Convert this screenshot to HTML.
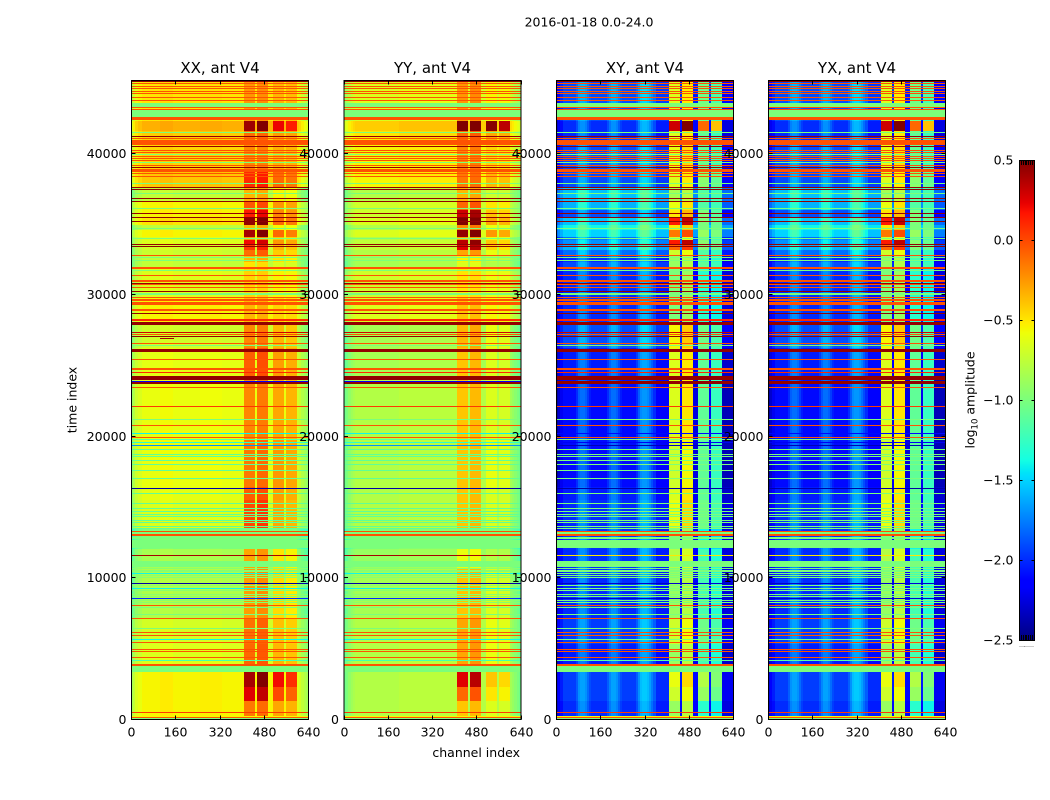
<!DOCTYPE html>
<html>
<head>
<meta charset="utf-8">
<title>2016-01-18 0.0-24.0</title>
<style>
html,body{margin:0;padding:0;background:#fff;}
#figure{position:relative;width:1050px;height:800px;overflow:hidden;background:#fff;}
canvas{position:absolute;display:block;image-rendering:pixelated;}
svg{position:absolute;left:0;top:0;}
text{font-family:"DejaVu Sans","Liberation Sans",sans-serif;fill:#000;}
</style>
</head>
<body>
<div id="figure">
<canvas id="hm0"></canvas>
<canvas id="hm1"></canvas>
<canvas id="hm2"></canvas>
<canvas id="hm3"></canvas>
<canvas id="cb"></canvas>
<svg id="overlay" width="1050" height="800">
<text x="589" y="26.5" font-size="12.5" text-anchor="middle">2016-01-18 0.0-24.0</text>
<text x="520" y="757" font-size="12.5" text-anchor="end">channel index</text>
<text transform="translate(76.5,400) rotate(-90)" font-size="12.5" text-anchor="middle">time index</text>
<text transform="translate(974.5,400) rotate(-90)" font-size="12.5" text-anchor="middle">log<tspan font-size="8.5" dy="3">10</tspan><tspan dy="-3"> amplitude</tspan></text>
</svg>
</div>
<script>
// ---- chart data ----
const panelTitles = ["XX, ant V4", "YY, ant V4", "XY, ant V4", "YX, ant V4"];
const channelTicks = [0, 160, 320, 480, 640];
const timeTicks = [0, 10000, 20000, 30000, 40000];
const colorTicks = [0.5, 0, -0.5, -1, -1.5, -2, -2.5];
const colorTickLabels = ["0.5", "0.0", "\u22120.5", "\u22121.0", "\u22121.5", "\u22122.0", "\u22122.5"];
const colorbarEdgeMarks = [0.1, 0.22, 0.34, 0.46, 0.58, 0.7, 0.82, 0.94];

// start (upper) time of each observing segment
const segmentTop = [45143,42266,41512,40900,38778,37600,36550,35950,35360,34890,34540,34060,33830,33540,33120,32770,32300,31943,29829,27825,26175,24054,19693,16393,15448,13445,12030,10616,7081,5313,3286,2249,1306];
const xxBase  = [-.5,-.33,-.42,-.45,-.4,-.75,-.55,-.55,-.5,-.75,-.55,-.65,-.65,-.7,-.72,-.75,-.75,-.65,-.55,-.7,-.62,-.6,-.6,-.62,-.65,-1,-.85,-.82,-.68,-.65,-.55,-.55,-.55];
const xxRfi   = [.25,.75,.3,.25,.5,.4,.5,.7,.95,.4,.95,.4,.85,.75,.6,.4,.25,.2,.2,.5,.55,.4,.45,.55,.65,0,.55,.55,.55,.55,.95,.8,.4];
const xxOuter = [.15,.55,.15,.12,.3,.2,.3,.35,.4,.2,.45,.25,.4,.35,.3,.25,.1,.1,.1,.35,.35,.3,.35,.35,.35,0,.35,.35,.3,.3,.75,.55,.25];
const yyBase  = [-.65,-.42,-.5,-.55,-.55,-.8,-.7,-.7,-.65,-.8,-.65,-.8,-.75,-.75,-.8,-.85,-.85,-.7,-.65,-.85,-.85,-.8,-.8,-.8,-.8,-1,-.9,-.85,-.8,-.8,-.8,-.8,-.8];
const yyRfi   = [.4,.95,.4,.35,.4,.45,.6,1,1.15,.6,1.1,.5,1.1,1,.5,.3,.2,.2,.25,.5,.45,.4,.4,.4,.4,0,.3,.45,.5,.5,1.05,.7,.4];
const yyOuter = [.1,.9,.2,.1,.2,.1,.2,.3,.35,.2,.4,.2,.35,.3,.2,.1,.05,.1,.1,.25,.2,.15,.2,.15,.15,0,.1,.2,.2,.2,.4,.3,.15];
const xyBase  = [-1.9,-2,-2,-1.9,-1.9,-1.55,-1.6,-1.9,-1.55,-1.4,-1.5,-1.8,-1.7,-1.6,-1.8,-2,-1.9,-2,-2,-1.9,-2.05,-2.1,-2.1,-2.05,-2,-2,-2,-2,-1.95,-2.05,-1.95,-1.95,-2];
const xyRfi   = [1.25,2.3,1.35,1.3,1.25,.7,1,1.4,1.7,.9,1.35,1.1,1.85,1.5,1.1,1.1,1,1,1,1.35,1.4,1.45,1.4,1.4,1.4,1,1.2,1.1,1.25,1.15,1.35,1.25,1.1];
const xyOuter = [.85,1.9,.9,.8,.95,.4,.45,.9,.55,.4,.6,.7,.75,.6,.65,.8,.8,.7,.7,.85,.95,1,1,.95,.95,.6,.8,.8,.9,.85,1.15,1.05,.7];

// per-channel offsets, one value for each 8-channel bin
const xxOffset = [-.3,-.2,-.1,-.05,-.05,0,0,0,0,0,0,0,0,.03,.03,.03,.03,.03,.03,0,0,0,0,0,0,0,0,0,0,0,0,.02,.02,.02,.02,.02,.02,.02,.02,.02,.02,0,0,0,0,0,0,0,0,0,0,0,0,0,0,0,0,0,0,0,0,0,0,0,0,0,0,0,0,0,0,0,0,0,0,-.08,-.12,-.2,-.25,-.3];
const yyOffset = [-.25,-.2,-.12,-.07,-.03,0,0,0,0,0,0,0,0,0,0,0,0,0,0,0,0,0,0,0,0,.03,.03,.03,.03,.03,.03,.03,.03,.03,.03,.03,.03,.03,.03,.03,.03,.03,.03,.03,.03,.03,.03,.03,.03,.03,.03,0,0,0,0,0,0,0,0,0,0,0,0,0,0,0,0,0,0,0,0,0,0,0,0,-.05,-.1,-.15,-.2,-.25];
const xyOffset = [-.3,-.2,-.1,0,0,0,0,0,0,.1,.25,.3,.3,.25,.15,.05,0,0,0,0,0,0,0,.1,.22,.3,.3,.25,.15,.05,0,0,0,0,0,0,.1,.25,.38,.42,.42,.38,.3,.2,.1,-.05,-.05,-.05,-.05,-.05,-.05,0,0,0,0,0,-.1,0,0,0,0,0,-.15,-.15,0,0,0,0,0,-.1,0,0,0,0,0,-.25,-.25,-.25,-.25,-.25];
// how strongly each channel bin follows the inner and outer RFI blocks
const rfiWeight = [0,0,0,0,0,0,0,0,0,0,0,0,0,0,0,0,0,0,0,0,0,0,0,0,0,0,0,0,0,0,0,0,0,0,0,0,0,0,0,0,0,0,0,0,0,0,0,0,0,0,0,1,1,1,1,1,0,1.1,1.1,1.1,1.1,1.1,0,0,0,0,0,0,0,0,0,0,0,0,0,0,0,0,0,0];
const outerWeight = [0,0,0,0,0,0,0,0,0,0,0,0,0,0,0,0,0,0,0,0,0,0,0,0,0,0,0,0,0,0,0,0,0,0,0,0,0,0,0,0,0,0,0,0,0,0,0,0,0,0,0,0,0,0,0,0,0,0,0,0,0,0,0,0,1,1,1,1,1,0,.85,.85,.85,.85,.85,0,0,0,0,0];

// flagged rows: time, span, value in autocorrelations, value in cross-correlations
const flaggedRows = [
[45090,60,.45,.45],[44953,60,-.03,-.03],[44718,60,-.03,-.03],[44553,60,-.03,-.03],[44388,60,-.03,-.03],[44246,60,-.03,-.03],[43963,60,-.03,-.03],[43728,60,-.03,-.03],
[43539,283,-1,-1],[43209,71,-.03,-.03],[43068,48,-.03,-.03],[43020,472,-1,-1],[42526,212,-.03,-.03],[41465,71,-1,-1],[41206,90,.45,.45],[41017,60,-.03,-.03],
[40900,377,-.03,-.03],[40475,80,.45,.45],[40192,60,-.03,-.03],[40051,60,-.03,-.03],[39909,60,-1,-1],[39768,60,-.03,-.03],[39627,60,-.03,-.03],[39485,60,-.03,-.03],[39344,60,-1,-1],[39155,60,-.03,-.03],[39014,71,.45,.45],
[38849,190,-.03,-.03],[38542,60,-.03,-.03],[38354,60,-.03,-.03],[37835,60,-1,-1],[37553,60,.45,.45],[37411,60,.45,.45],[37128,70,-1,-1],[36798,60,.45,.45],[36610,60,.45,.45],
[36067,60,-1,-1],[35714,60,.45,.45],[35478,60,.45,.45],[35195,60,.45,.45],[34653,60,-1,-1],[33946,60,-1,-1],[33545,60,.45,.45],[33404,60,.45,.45],[32767,60,-.03,-.03],[32650,60,-1,-1],[32414,60,-1,-1],
[31943,140,-.03,-.03],[31707,60,-1,-1],[31354,60,-.03,-.03],
[31007,165,-.03,-.03],[30818,71,.45,.45],[30724,60,-.03,-.03],[30488,60,-.03,-.03],[30206,60,.45,.45],[30064,140,-1,-1],
[29829,60,-.03,-.03],[29687,60,-.03,-.03],[29593,60,-.03,-.03],[29451,60,-.03,-.03],[29357,118,-.03,-.03],[28933,94,-.03,-.03],[28697,60,.45,.45],[28226,118,.1,.1],[28061,212,.45,.45],
[27354,60,.3,.3],[27189,60,-.03,-.03],[27047,60,.45,.45],[26576,60,-.03,-.03],[26411,60,-1,-1],[26128,189,.45,.45],[25445,94,-.03,-.03],[24832,189,-.03,-.03],[24502,60,.1,.1],[24219,283,.45,.45],
[23912,71,-2.2,.45],[23794,118,.45,.45],[23441,60,-.03,-.03],[22145,50,.05,.05],[21226,60,-1,-1],[20801,60,-.03,-.03],[20212,60,-1.4,-2.1],[19953,60,-.03,-.03],[19811,60,-1.1,-1],[19600,60,-1.3,-2.2],[19387,60,-1.7,-2.35],
[19104,60,-1.1,-1],[18703,60,-1.1,-1],[18562,60,-1.1,-1],[18279,60,-1.1,-1],[17996,60,-1.1,-1],[17619,60,-1.1,-1],[17054,60,-1.1,-1],[16347,60,-2.4,-2.4],[15993,60,-1.1,-1],
[15259,60,-1.1,-1],[14929,60,-1.1,-1],[14694,60,-1.1,-1],[14505,60,-1.1,-1],[14317,60,-1.1,-1],[14081,60,-1.1,-1],[13892,60,-1.1,-1],[13610,60,-1.1,-1],[13468,60,-1.1,-1],
[13303,71,-.03,-.03],[13185,94,-1,-1],[13044,118,-.03,-.03],[12855,140,-1,-1],[12667,60,-2.3,-2.3],[12620,566,-1,-1],[11606,60,.4,-.5],[11158,424,-1,-1],
[10663,50,-.95,-1],[10545,50,-.95,-1],[10428,50,-.95,-1],[10333,60,-1.4,-1],[10168,50,-.95,-1],[10027,50,-.95,-1],[9626,60,-2.4,-2.3],[9461,50,-.95,-1],[9249,60,-1.4,-1],[9131,60,-1.7,-1],[9084,50,-.95,-1],[8848,50,-.95,-1],[8660,50,-.95,-1],[8566,60,-2,-2.3],[8424,50,-.95,-1],[8259,50,-.95,-1],
[8070,60,-.03,-.03],[7905,60,-1,-1],[7434,60,-1,-1],[7151,94,-.03,-.03],[6397,60,-1,-1],[6161,60,-.03,-.03],[5902,60,-.03,-.03],[5667,60,-1.4,-1],[5431,90,-.03,-.03],[4936,60,-.03,-.03],[4794,60,-.03,-.03],[4394,60,-.03,-.03],[4135,60,-1.2,-1.1],[3852,118,-.03,-.03],[3710,424,-1,-1],
[505,50,.05,.05],[237,60,-.55,-.55],[118,60,-.03,-.03],[60,60,-1,-1]
];
// short isolated streak in XX only: first channel, last channel, time, value
const xxStreak = [105, 155, 26900, .4];

// ---- axis setup ----
const panelLeft = [131.5, 344, 556.5, 768.5];
const panelW = 177, plotTop = 80.5, plotH = 639;
const chanMax = 640, timeMax = 45143;
const vMin = -2.5, vMax = 0.5;
const cbLeft = 1019.5, cbW = 15, cbTop = 160, cbH = 480;

function xScale(ch){ return ch / chanMax * panelW; }
function yScale(t){ return (1 - t / timeMax) * plotH; }
function cbScale(v){ return (vMax - v) / (vMax - vMin) * cbH; }

function interp(pts, n){
  for (let i = 1; i < pts.length; i++) {
    if (n <= pts[i][0]) {
      const a = pts[i-1], b = pts[i];
      return a[1] + (b[1]-a[1]) * (n-a[0]) / (b[0]-a[0]);
    }
  }
  return pts[pts.length-1][1];
}
const jetR = [[0,0],[.35,0],[.66,1],[.89,1],[1,.5]];
const jetG = [[0,0],[.125,0],[.375,1],[.64,1],[.91,0],[1,0]];
const jetB = [[0,.5],[.11,1],[.34,1],[.65,0],[1,0]];
function jet(v){
  const n = Math.max(0, Math.min(1, (v - vMin) / (vMax - vMin)));
  return "rgb(" + Math.round(interp(jetR,n)*255) + "," + Math.round(interp(jetG,n)*255) + "," + Math.round(interp(jetB,n)*255) + ")";
}

// ---- heatmaps ----
const panelSeries = [
  {base: xxBase, rfi: xxRfi, outer: xxOuter, off: xxOffset, flag: 2},
  {base: yyBase, rfi: yyRfi, outer: yyOuter, off: yyOffset, flag: 2},
  {base: xyBase, rfi: xyRfi, outer: xyOuter, off: xyOffset, flag: 3},
  {base: xyBase, rfi: xyRfi, outer: xyOuter, off: xyOffset, flag: 3}
];
const binWidth = chanMax / rfiWeight.length;

panelSeries.forEach(function(series, p){
  const cv = document.getElementById("hm" + p);
  cv.width = panelW;
  cv.height = plotH;
  cv.style.left = Math.floor(panelLeft[p]) + "px";
  cv.style.top = Math.floor(plotTop) + "px";
  const ctx = cv.getContext("2d");
  segmentTop.forEach(function(top, s){
    const bottom = s + 1 < segmentTop.length ? segmentTop[s+1] : 0;
    const y0 = Math.round(yScale(top)), y1 = Math.round(yScale(bottom));
    for (let b = 0; b < rfiWeight.length; b++) {
      const x0 = Math.round(xScale(b * binWidth)), x1 = Math.round(xScale((b+1) * binWidth));
      ctx.fillStyle = jet(series.base[s] + series.off[b] + rfiWeight[b] * series.rfi[s] + outerWeight[b] * series.outer[s]);
      ctx.fillRect(x0, y0, x1 - x0, y1 - y0);
    }
  });
  flaggedRows.forEach(function(row){
    const y0 = Math.round(yScale(row[0]));
    const h = Math.max(1, Math.round(yScale(row[0] - row[1])) - y0);
    ctx.fillStyle = jet(row[series.flag]);
    ctx.fillRect(0, y0, panelW, h);
  });
  if (p === 0) {
    ctx.fillStyle = jet(xxStreak[3]);
    ctx.fillRect(Math.round(xScale(xxStreak[0])), Math.round(yScale(xxStreak[2])), Math.round(xScale(xxStreak[1] - xxStreak[0])), 1);
  }
});

// ---- colorbar ----
(function(){
  const cv = document.getElementById("cb");
  cv.width = cbW;
  cv.height = cbH;
  cv.style.left = Math.floor(cbLeft) + "px";
  cv.style.top = cbTop + "px";
  const ctx = cv.getContext("2d");
  for (let i = 0; i < cbH; i++) {
    ctx.fillStyle = jet(vMax - (i + .5) / cbH * (vMax - vMin));
    ctx.fillRect(0, i, cbW, 1);
  }
})();

// ---- axes, ticks and labels ----
const svg = document.getElementById("overlay");
const NS = "http://www.w3.org/2000/svg";
function line(x1, y1, x2, y2){
  const el = document.createElementNS(NS, "line");
  el.setAttribute("x1", x1);
  el.setAttribute("y1", y1);
  el.setAttribute("x2", x2);
  el.setAttribute("y2", y2);
  el.setAttribute("stroke", "#000");
  el.setAttribute("stroke-width", "1");
  return el;
}
function label(x, y, str, size, anchor){
  const el = document.createElementNS(NS, "text");
  el.setAttribute("x", x);
  el.setAttribute("y", y);
  el.setAttribute("font-size", size);
  el.setAttribute("text-anchor", anchor);
  el.textContent = str;
  return el;
}
panelTitles.forEach(function(title, p){
  const L = panelLeft[p];
  const frame = document.createElementNS(NS, "rect");
  frame.setAttribute("x", L);
  frame.setAttribute("y", plotTop);
  frame.setAttribute("width", panelW);
  frame.setAttribute("height", plotH);
  frame.setAttribute("fill", "none");
  frame.setAttribute("stroke", "#000");
  
  
  svg.appendChild(frame);

  const t = label(L + panelW/2, 73, title, 15, "middle");
  
  
  svg.appendChild(t);

  channelTicks.forEach(function(ch){
    const x = Math.round(L + xScale(ch) - .5) + .5;
    const a = line(x, plotTop + plotH, x, plotTop + plotH - 4);
    
    
    svg.appendChild(a);
    const b = line(x, plotTop, x, plotTop + 4);
    
    
    svg.appendChild(b);
    const tl = label(x, plotTop + plotH + 17, String(ch), 12.5, "middle");
    
    
    svg.appendChild(tl);
  });
  timeTicks.forEach(function(tv){
    const y = Math.round(plotTop + yScale(tv) - .5) + .5;
    const a = line(L, y, L + 4, y);
    
    
    svg.appendChild(a);
    const b = line(L + panelW, y, L + panelW - 4, y);
    
    
    svg.appendChild(b);
    const tl = label(L - 5, y + 4.5, String(tv), 12.5, "end");
    
    
    svg.appendChild(tl);
  });
});

const cbFrame = document.createElementNS(NS, "rect");
cbFrame.setAttribute("x", cbLeft);
cbFrame.setAttribute("y", cbTop + .5);
cbFrame.setAttribute("width", cbW);
cbFrame.setAttribute("height", cbH);
cbFrame.setAttribute("fill", "none");
cbFrame.setAttribute("stroke", "#000");


svg.appendChild(cbFrame);
colorTicks.forEach(function(v, i){
  const y = cbTop + cbScale(v);
  const tl = label(cbLeft - 6, y + 4.5, colorTickLabels[i], 12.5, "end");
  
  
  svg.appendChild(tl);
  const a = line(cbLeft, y + .5, cbLeft + 3, y + .5);
  
  
  svg.appendChild(a);
  const b = line(cbLeft + cbW, y + .5, cbLeft + cbW - 3, y + .5);
  
  
  svg.appendChild(b);
});
colorbarEdgeMarks.forEach(function(f){
  const x = Math.round(cbLeft + f * cbW) + .5;
  const top = line(x, cbTop + 1, x, cbTop + 5);
  
  
  svg.appendChild(top);
  const bottom = line(x, cbTop + cbH, x, cbTop + cbH - 5);
  
  
  svg.appendChild(bottom);
  const dot = line(x - 2, cbTop + cbH + 6.5, x - 1, cbTop + cbH + 6.5);
  dot.setAttribute("stroke", "#999");
  
  
  svg.appendChild(dot);
});
</script>
</body>
</html>
